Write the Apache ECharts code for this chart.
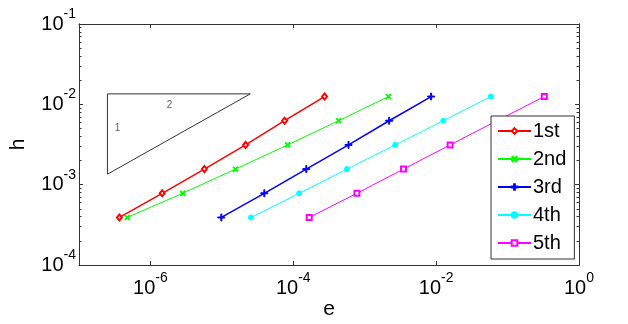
<!DOCTYPE html>
<html>
<head>
<meta charset="utf-8">
<script src="https://cdn.jsdelivr.net/npm/echarts@6/dist/echarts.min.js"></script>
<style>html,body{margin:0;padding:0;background:#fff}#main{width:628px;height:324px}</style>
</head>
<body>
<div id="main"></div>
<script>
// h (mesh size) and e (error) for the 5 schemes
var h  = [1/2560, 1/1280, 1/640, 1/320, 1/160, 1/80];
var e1 = [3.68e-7, 1.46e-6, 5.69e-6, 2.15e-5, 7.55e-5, 2.74e-4];
var e2 = [4.72e-7, 2.83e-6, 1.55e-5, 8.32e-5, 4.31e-4, 2.15e-3];
var e3 = [9.84e-6, 3.93e-5, 1.52e-4, 5.93e-4, 2.20e-3, 8.51e-3];
var e4 = [2.56e-5, 1.21e-4, 5.64e-4, 2.67e-3, 1.26e-2, 5.82e-2];
var e5 = [1.67e-4, 7.78e-4, 3.49e-3, 1.57e-2, 7.1e-2, 3.27e-1];
var names = ['1st', '2nd', '3rd', '4th', '5th'];
var colors = ['#ff0000', '#00ff00', '#0000ff', '#00ffff', '#ff00ff'];

// slope triangle
var triX = [2.5e-7, 2.5e-7, 2.5e-5, 2.5e-7];
var triY = [1.35e-3, 1.35e-2, 1.35e-2, 1.35e-3];
var triLabels = [['1', 3.45e-7, 5.1e-3], ['2', 1.85e-6, 9.8e-3]];

// ticks
var xTicks = [1e-6, 1e-4, 1e-2, 1];
var yTicks = [1e-4, 1e-3, 1e-2, 1e-1];
var yMinor = [];
for (var d = -4; d < -1; d++) {
    for (var k = 2; k <= 9; k++) yMinor.push(k * Math.pow(10, d));
}

var axisColor = '#333';
var font = 'Liberation Sans';

function pairs(ex) {
    var out = [];
    for (var i = 0; i < h.length; i++) out.push([ex[i], h[i]]);
    return out;
}
function powLabel(v) {
    return '{b|10}{e|' + Math.round(Math.log10(v)) + '}';
}
var rich = {
    b: {fontFamily: font, fontSize: 20, color: '#000', lineHeight: 34, verticalAlign: 'middle'},
    e: {fontFamily: font, fontSize: 14, color: '#000', lineHeight: 14, verticalAlign: 'top'}
};

var plus = 'path://M3,0H4V3H7V4H4V7H3V4H0V3H3Z';

function xAx(pos, label) {
    return {
        type: 'log', logBase: 10, min: 1e-7, max: 1, position: pos,
        axisLine: {lineStyle: {color: axisColor, width: 1}},
        axisTick: {inside: true, length: 4, customValues: xTicks, lineStyle: {color: axisColor}},
        axisLabel: {show: label, customValues: xTicks, formatter: powLabel, rich: rich, margin: 6},
        splitLine: {show: false}, minorTick: {show: false},
        name: label ? 'e' : '', nameLocation: 'middle', nameGap: 34, nameMoveOverlap: false,
        nameTextStyle: {fontFamily: font, fontSize: 21, color: '#000'}
    };
}
function yAx(pos, minor, label) {
    return {
        type: 'log', logBase: 10, min: 1e-4, max: 1e-1, position: pos,
        axisLine: {lineStyle: {color: axisColor, width: 1}},
        axisTick: {inside: true, length: minor ? 2.5 : 4, customValues: minor ? yMinor : yTicks, lineStyle: {color: axisColor}},
        axisLabel: {show: label, customValues: yTicks, formatter: powLabel, rich: rich, margin: 3},
        splitLine: {show: false}, minorTick: {show: false},
        name: label ? 'h' : '', nameLocation: 'middle', nameGap: 50, nameMoveOverlap: false,
        nameTextStyle: {fontFamily: font, fontSize: 21, color: '#000'}
    };
}

var symbols = ['emptyDiamond', plus, plus, 'circle', 'emptyRect'];
var symSizes = [[5, 6], 6, 7, 5, 5];
var symRot = [0, 45, 0, 0, 0];
var series = [];
var all = [e1, e2, e3, e4, e5];
for (var s = 0; s < 5; s++) {
    series.push({
        name: names[s], type: 'line', data: pairs(all[s]),
        symbol: symbols[s], symbolSize: symSizes[s], symbolRotate: symRot[s],
        showSymbol: true,
        lineStyle: {color: colors[s], width: (s === 0 || s === 2) ? 1.5 : 1},
        itemStyle: {color: colors[s], borderColor: colors[s], borderWidth: 1}
    });
}
var tri = [];
for (var i = 0; i < triX.length; i++) tri.push([triX[i], triY[i]]);
series.push({
    type: 'line', data: tri, symbol: 'none', silent: true,
    lineStyle: {color: '#333', width: 1}
});
series.push({
    type: 'scatter', symbolSize: 0, silent: true,
    data: triLabels.map(function (t) { return {name: t[0], value: [t[1], t[2]]}; }),
    label: {show: true, position: 'inside', formatter: '{b}', fontFamily: font, fontSize: 10, color: '#333'}
});

var myChart = echarts.init(document.getElementById('main'));
var option = {
    animation: false,
    textStyle: {fontFamily: font},
    grid: {left: 79, right: 49, top: 24, bottom: 59, containLabel: false, outerBoundsMode: 'none'},
    xAxis: [xAx('bottom', true), xAx('top', false)],
    yAxis: [yAx('left', false, true), yAx('left', true, false), yAx('right', false, false), yAx('right', true, false)],
    legend: {
        data: names, orient: 'vertical', left: 491, top: 116,
        backgroundColor: '#fff', borderColor: axisColor, borderWidth: 1, borderRadius: 0,
        padding: [5, 8, 6, 6], itemGap: 8, itemWidth: 33, itemHeight: 7,
        textStyle: {fontFamily: font, fontSize: 20, color: '#000', lineHeight: 20, padding: [0, 0, 0, -3]}
    },
    series: series
};
myChart.setOption(option);
</script>
</body>
</html>
